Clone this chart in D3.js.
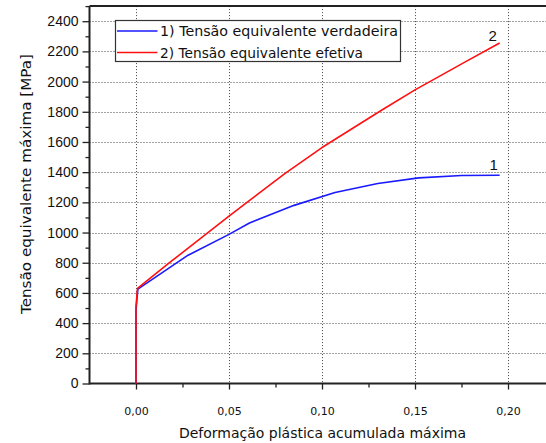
<!DOCTYPE html>
<html><head><meta charset="utf-8">
<script src="https://cdn.jsdelivr.net/npm/d3@7"></script>
<style>body{margin:0;background:#fff}svg{display:block}</style>
</head><body>
<script>
// ---- data ----
const xTickValues = [0, 0.05, 0.10, 0.15, 0.20];
const xTickLabels = ["0,00", "0,05", "0,10", "0,15", "0,20"];
const yTickValues = [0,200,400,600,800,1000,1200,1400,1600,1800,2000,2200,2400];
const seriesNames = ["1) Tensão equivalente verdadeira", "2) Tensão equivalente efetiva"];
const blueX = [0, 0, 0.0005, 0.001, 0.028, 0.05, 0.061, 0.085, 0.107, 0.13, 0.152, 0.175, 0.1955];
const blueY = [0, 480, 560, 625, 850, 988, 1063, 1180, 1265, 1325, 1362, 1378, 1380];
const redX = [0, 0, 0.0008, 0.018, 0.05, 0.08, 0.10, 0.132, 0.15, 0.178, 0.1955];
const redY = [0, 510, 630, 800, 1109, 1390, 1563, 1810, 1945, 2137, 2256];
const curveLabels = ["1", "2"];

const W = 546, H = 443;
const svg = d3.select("body").append("svg").attr("width", W).attr("height", H);

const x = d3.scaleLinear().domain([-0.025, 0.225]).range([89.5, 554.5]);
const y = d3.scaleLinear().domain([0, 2500]).range([383.5, 6.1]);

// grid
const grid = svg.append("g").attr("stroke", "#444").attr("stroke-width", 1).attr("stroke-dasharray", "1,2");
yTickValues.filter(v => v > 0).forEach(v => {
  grid.append("line").attr("x1", x(-0.025)).attr("x2", W).attr("y1", Math.round(y(v)) + 0.5).attr("y2", Math.round(y(v)) + 0.5);
});
xTickValues.forEach(v => {
  grid.append("line").attr("x1", Math.round(x(v)) + 0.5).attr("x2", Math.round(x(v)) + 0.5).attr("y1", y(2500)).attr("y2", y(0));
});

// axes
const yMinor = d3.range(100, 2600, 200);
const xMinor = [0.025, 0.075, 0.125, 0.175, 0.225];
const yAxis = d3.axisLeft(y).tickValues(yTickValues).tickSize(7).tickFormat(d3.format("d"));
const gy = svg.append("g").attr("transform", `translate(${x(-0.025)},0)`).call(yAxis);
gy.selectAll("text").attr("font-family", "Liberation Sans, Arial, sans-serif").attr("font-size", 14).attr("fill", "#111").attr("x", -11);
svg.append("g").attr("transform", `translate(${x(-0.025)},0)`).call(d3.axisLeft(y).tickValues(yMinor).tickSize(4).tickFormat(""));

const xAxis = d3.axisBottom(x).tickValues(xTickValues).tickSize(6).tickFormat((d, i) => xTickLabels[i]);
const gx = svg.append("g").attr("transform", `translate(0,${y(0)})`).call(xAxis);
gx.selectAll("text").attr("font-family", "DejaVu Sans, sans-serif").attr("font-size", 11).attr("fill", "#111").attr("y", 24);
svg.append("g").attr("transform", `translate(0,${y(0)})`).call(d3.axisBottom(x).tickValues(xMinor).tickSize(4).tickFormat(""));

svg.selectAll(".domain").remove();
svg.selectAll(".tick line").attr("stroke", "#222").attr("stroke-width", 1.3);

// frame lines
const frame = svg.append("g").attr("stroke", "#222").attr("stroke-width", 2);
frame.append("line").attr("x1", x(-0.025)).attr("x2", W).attr("y1", y(0)).attr("y2", y(0));
frame.append("line").attr("x1", x(-0.025)).attr("x2", x(-0.025)).attr("y1", y(0) + 1).attr("y2", y(2500));
frame.append("line").attr("x1", x(-0.025)).attr("x2", W).attr("y1", y(2500)).attr("y2", y(2500));

// series
const line = d3.line().x(d => x(d[0])).y(d => y(d[1]));
const blue = blueX.map((v, i) => [v, blueY[i]]);
const red = redX.map((v, i) => [v, redY[i]]);
svg.append("path").datum(blue).attr("d", line).attr("fill", "none").attr("stroke", "#1a1aff").attr("stroke-width", 1.6).attr("stroke-linejoin", "round");
svg.append("path").datum(red).attr("d", line).attr("fill", "none").attr("stroke", "#ff1010").attr("stroke-width", 1.6).attr("stroke-linejoin", "round");

// curve labels
svg.append("text").attr("x", x(blueX[blueX.length - 1]) - 6).attr("y", y(blueY[blueY.length - 1]) - 5)
  .attr("text-anchor", "middle").attr("font-family", "Liberation Sans, Arial, sans-serif").attr("font-size", 15).attr("fill", "#111").text(curveLabels[0]);
svg.append("text").attr("x", x(redX[redX.length - 1]) - 7).attr("y", y(redY[redY.length - 1]) - 2)
  .attr("text-anchor", "middle").attr("font-family", "Liberation Sans, Arial, sans-serif").attr("font-size", 15).attr("fill", "#111").text(curveLabels[1]);

// legend
const lg = svg.append("g");
lg.append("rect").attr("x", 115.5).attr("y", 20.5).attr("width", 285).attr("height", 41).attr("fill", "#fff").attr("stroke", "#333").attr("stroke-width", 1.2);
const legColors = ["#1a1aff", "#ff1010"];
seriesNames.forEach((name, i) => {
  const yy = 31 + i * 21.5;
  lg.append("line").attr("x1", 117).attr("x2", 157.5).attr("y1", yy).attr("y2", yy).attr("stroke", legColors[i]).attr("stroke-width", 1.6);
  const t = lg.append("text").attr("x", 160).attr("y", yy + 5).attr("font-family", "DejaVu Sans, sans-serif").attr("font-size", 14).attr("fill", "#111").text(name);
  const len = i === 0 ? 238 : 203;
  t.attr("textLength", len).attr("lengthAdjust", "spacingAndGlyphs");
});

// axis titles
svg.append("text").attr("x", 322.5).attr("y", 438).attr("text-anchor", "middle")
  .attr("font-family", "DejaVu Sans, sans-serif").attr("font-size", 14.5).attr("fill", "#111")
  .attr("textLength", 287).attr("lengthAdjust", "spacingAndGlyphs")
  .text("Deformação plástica acumulada máxima");
svg.append("text").attr("transform", "translate(31,184) rotate(-90)").attr("text-anchor", "middle")
  .attr("font-family", "DejaVu Sans, sans-serif").attr("font-size", 14.5).attr("fill", "#111")
  .attr("textLength", 260).attr("lengthAdjust", "spacingAndGlyphs")
  .text("Tensão equivalente máxima [MPa]");
</script>
</body></html>
